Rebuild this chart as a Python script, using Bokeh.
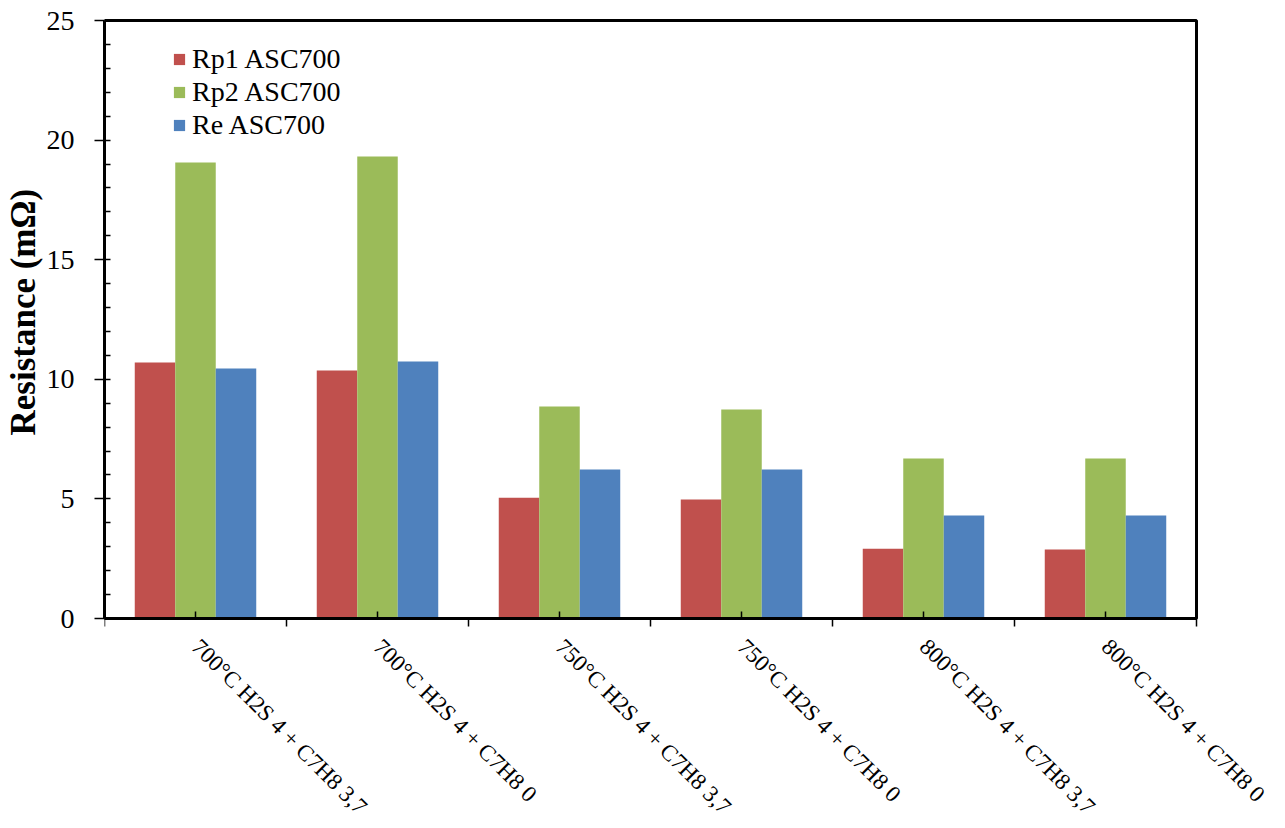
import numpy as np
from bokeh.plotting import figure
from bokeh.models import Range1d, FixedTicker, Legend, LegendItem, Title
from bokeh.core.properties import value
from bokeh.embed import file_html
from bokeh.resources import INLINE

categories = ["700°C H2S 4 + C7H8 3,7", "700°C H2S 4 + C7H8 0",
              "750°C H2S 4 + C7H8 3,7", "750°C H2S 4 + C7H8 0",
              "800°C H2S 4 + C7H8 3,7", "800°C H2S 4 + C7H8 0"]
series_names = ["Rp1 ASC700", "Rp2 ASC700", "Re ASC700"]
rp1 = [10.70, 10.37, 5.05, 4.97, 2.92, 2.88]
rp2 = [19.06, 19.31, 8.86, 8.74, 6.69, 6.69]
re_ = [10.45, 10.74, 6.23, 6.23, 4.31, 4.31]
colors = ["#C0504D", "#9BBB59", "#4F81BD"]
y_ticks = [0, 5, 10, 15, 20, 25]
y_label = "Resistance (mΩ)"
Y_MAX = 25

FONT = "Liberation Serif"
n = len(categories)

# layout (pixels): the plotting frame also covers the strip for the rotated labels
W, H = 1277, 826
LEFT, TOP = 104, 17
BOX_H = 598                      # height of the 0..25 box
PX_Y = BOX_H / Y_MAX             # pixels per y unit
PX_X = 182                       # pixels per category
pad_top = 3                      # frame space above the box
below = 208                      # frame space below y = 0
frame_w = W - LEFT

p = figure(width=W, height=H, output_backend="svg", toolbar_location=None,
           x_axis_location="above",
           x_range=Range1d(-0.5, -0.5 + frame_w / PX_X),
           y_range=Range1d(-below / PX_Y, Y_MAX + pad_top / PX_Y),
           min_border_left=LEFT, min_border_right=0, min_border_top=TOP, min_border_bottom=0)
p.xgrid.visible = False
p.ygrid.visible = False
p.outline_line_color = None
p.background_fill_color = "white"
p.border_fill_color = "white"

idx = np.arange(n)
bw = 0.2225
renderers = []
for k, (vals, col) in enumerate(zip([rp1, rp2, re_], colors)):
    r = p.vbar(x=idx + (k - 1) * bw, top=vals, bottom=0, width=bw,
               fill_color=col, line_color=None)
    renderers.append(r)

# plot-area box
p.quad(left=[-0.5], right=[n - 0.5], bottom=[0], top=[Y_MAX],
       fill_color=None, line_color="black", line_width=3)

# x axis drawn at y = 0: ticks only, category labels are text glyphs below
xa = p.xaxis[0]
xa.fixed_location = 0
xa.bounds = (-0.5, n - 0.5)
xa.ticker = FixedTicker(ticks=list(range(n)),
                        minor_ticks=[i - 0.5 for i in range(n + 1)])
xa.major_label_overrides = {i: "" for i in range(n)}
xa.major_label_text_font_size = "1px"
xa.major_label_standoff = 0
xa.major_tick_out = 7     # upward (into the box)
xa.major_tick_in = 0
xa.minor_tick_out = 0
xa.minor_tick_in = 8      # downward (outside the box)
xa.major_tick_line_color = "black"
xa.minor_tick_line_color = "black"
xa.major_tick_line_width = 1.5
xa.minor_tick_line_width = 1.5
xa.axis_line_width = 3
xa.axis_line_color = "black"

p.text(x=idx, y=[-15.5 / PX_Y] * n, text=categories, angle=-np.pi / 4,
       x_offset=9, text_align="left", text_baseline="top",
       text_font=value(FONT), text_font_size="23px", text_color="black")

# y axis
ya = p.yaxis[0]
ya.bounds = (0, Y_MAX)
ya.ticker = FixedTicker(ticks=y_ticks, minor_ticks=list(range(0, Y_MAX + 1)))
ya.major_label_text_font = FONT
ya.major_label_text_font_size = "28px"
ya.major_label_text_color = "black"
ya.major_tick_in = 0
ya.major_tick_out = 10
ya.minor_tick_in = 6
ya.minor_tick_out = 0
ya.major_tick_line_width = 1.5
ya.minor_tick_line_width = 1.5
ya.major_tick_line_color = "black"
ya.minor_tick_line_color = "black"
ya.axis_line_width = 3
ya.axis_line_color = "black"
ya.major_label_standoff = 20

# y axis title, centred on the 0..25 box (placed from the bottom of the frame)
ytitle = Title(text=y_label, align="left", offset=below + BOX_H / 2 - 116,
               text_font=FONT, text_font_style="bold", text_font_size="35px",
               text_color="black", standoff=2)
p.add_layout(ytitle, "left")

legend = Legend(items=[LegendItem(label=s, renderers=[r]) for s, r in zip(series_names, renderers)],
                location=(68, 685), orientation="vertical")
legend.label_text_font = FONT
legend.label_text_font_size = "28px"
legend.label_text_color = "black"
legend.glyph_width = 14
legend.glyph_height = 14
legend.label_standoff = 6
legend.label_height = 33
legend.spacing = 0
legend.padding = 0
legend.margin = 0
legend.border_line_color = None
legend.background_fill_alpha = 0
p.add_layout(legend, "center")

open("out.html", "w").write(file_html(p, INLINE))
